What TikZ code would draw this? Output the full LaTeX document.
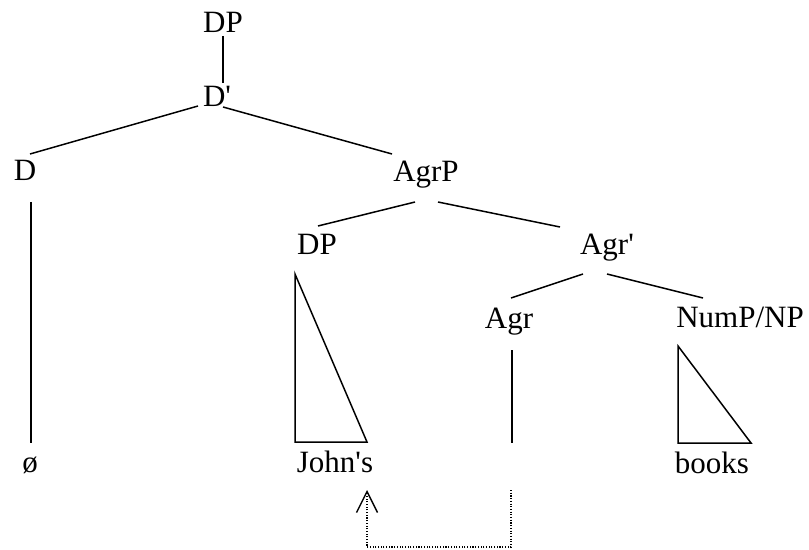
\documentclass[tikz,border=0pt]{standalone}
\usepackage{fontspec}
\newfontfamily\treefont{Liberation Serif}
\usetikzlibrary{calc,arrows.meta}

\begin{document}
\begin{tikzpicture}[
    x=1bp, y=-1bp,
    cat/.style={anchor=base, inner sep=0pt, font=\treefont\fontsize{31bp}{36bp}\selectfont},
    branch/.style={line width=1.5bp},
    roof/.style={branch, line join=miter},
    move/.style={line width=1.1bp, dash pattern=on 1.1bp off 1.6bp, -{Straight Barb[length=21bp, width=21bp, line width=1.4bp]}}
]
\useasboundingbox (0,0) rectangle (809,550);

% Categories
\node[cat] (dptop) at (223,33) {DP};
\node[cat] (dbar) at (217,107) {D'};
\node[cat] (d) at (25,181) {D};
\node[cat] (agrp) at (426,182) {AgrP};
\node[cat] (dp) at (317,255) {DP};
\node[cat] (agrbar) at (607,255) {Agr'};
\node[cat] (agr) at (509,328) {Agr};
\node[cat] (nump) at (740,327) {NumP/NP};

% Words
\node[cat] (null) at (30,472) {ø};
\node[cat] (johns) at (335,472) {John's};
\node[cat] (books) at (712,473) {books};
\coordinate (trace) at (511,472);

% Branches
\draw[branch] ($(dptop.base)+(0,3)$) -- ($(dbar.base)+(6,-24)$);
\draw[branch] ($(dbar.base)+(-19,-1)$) -- ($(d.base)+(5,-27)$);
\draw[branch] ($(dbar.base)+(6,0)$) -- ($(agrp.base)+(-34,-28)$);
\draw[branch] ($(agrp.base)+(-11,20)$) -- ($(dp.base)+(1,-29)$);
\draw[branch] ($(agrp.base)+(12,20)$) -- ($(agrbar.base)+(-47,-28)$);
\draw[branch] ($(agrbar.base)+(-24,19)$) -- ($(agr.base)+(2,-30)$);
\draw[branch] ($(agrbar.base)+(0,19)$) -- ($(nump.base)+(-37,-29)$);
\draw[branch] ($(d.base)+(6,21)$) -- ($(null.base)+(1,-29)$);
\draw[branch] ($(agr.base)+(3,22)$) -- ($(trace)+(1,-29)$);

% Roofs
\draw[roof] ($(dp.base)+(-22,19)$) -- ($(johns.base)+(-40,-30)$) -- ($(johns.base)+(32,-30)$) -- cycle;
\draw[roof] ($(nump.base)+(-62,19)$) -- ($(books.base)+(-34,-30)$) -- ($(books.base)+(39,-30)$) -- cycle;

% Movement
\draw[move] ($(trace)+(0,18)$) -- ++(0,57) -| ($(johns.base)+(32,18)$);

\end{tikzpicture}
\end{document}
